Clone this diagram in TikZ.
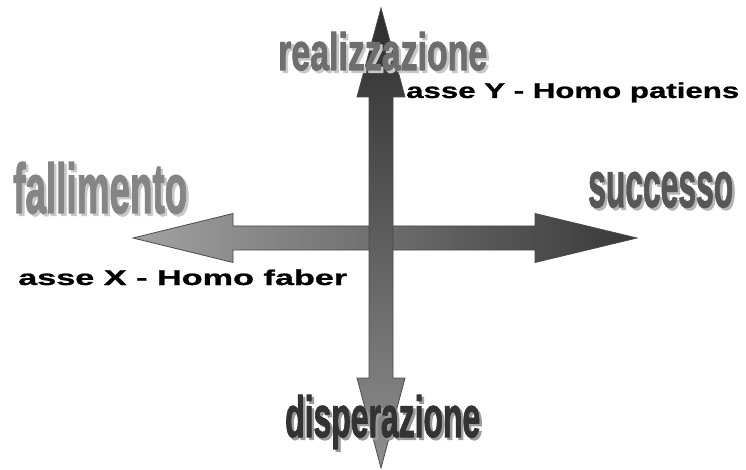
\documentclass[tikz,border=0pt]{standalone}
\usepackage{graphicx}
\usepackage{fontspec}
\setmainfont{Liberation Sans}
\newfontfamily\heavyfont[FakeBold=2]{Liberation Sans}
\newfontfamily\blackfont[FakeBold=0.8]{Liberation Sans}
\usepackage{tikz}
\usetikzlibrary{positioning}
\usepackage{xcolor}
\definecolor{axlight}{HTML}{A2A2A2}
\definecolor{axdark}{HTML}{383838}
\definecolor{axedge}{HTML}{4A4A4A}
\definecolor{realgray}{HTML}{6E6E6E}
\definecolor{failgray}{HTML}{858585}
\definecolor{succgray}{HTML}{575757}
\definecolor{despgray}{HTML}{333333}
\definecolor{shadowlight}{HTML}{C8C8C8}
\definecolor{shadowmid}{HTML}{B4B4B4}
\definecolor{shadowdark}{HTML}{9A9A9A}
\newcommand{\fitword}[3]{\resizebox{#1pt}{#2pt}{#3}}
% width, height, fill, shadow, text
\newcommand{\shadowword}[5]{%
  \rlap{\hspace{2.5pt}\raisebox{-2.5pt}{\textcolor{#4}{\fitword{#1}{#2}{#5}}}}%
  \textcolor{#3}{\fitword{#1}{#2}{#5}}}

\begin{document}
\begin{tikzpicture}[x=1pt,y=-1pt,
  word/.style={inner sep=0pt,anchor=base west,font=\heavyfont\bfseries},
  axislabel/.style={inner sep=0pt,anchor=base west,font=\blackfont\bfseries}]
  \useasboundingbox (0,0) rectangle (746,470);
  \fill[white] (0,0) rectangle (746,470);
  % horizontal axis, light on the left
  \path[draw=axedge, line width=0.8pt, left color=axlight, right color=axdark]
    (133,238) -- (233,213.5) -- (233,226) -- (535,226) -- (535,213.5)
    -- (637,238) -- (535,262.5) -- (535,250) -- (233,250) -- (233,262.5) -- cycle;
  % vertical axis, dark at the top
  \path[draw=axedge, line width=0.8pt, top color=axdark!80!black, bottom color=axlight!88!black]
    (381,8) -- (405,97) -- (393,97) -- (393,378) -- (405,378) -- (381,468)
    -- (357,378) -- (369,378) -- (369,97) -- (357,97) -- cycle;
  % pole words, each with its shadow
  \node[word] (real) at (278,70) {\shadowword{209}{38}{realgray}{shadowlight}{realizzazione}};
  \node[word] (fail) at (13,213) {\shadowword{174}{51}{failgray}{shadowlight}{fallimento}};
  \node[word] (succ) at (588,207) {\shadowword{145}{35}{succgray}{shadowmid}{successo}};
  \node[word] (desp) at (285,437) {\shadowword{195}{42}{despgray}{shadowdark}{disperazione}};
  % axis names
  \node[axislabel] (xname) at (18,285) {\fitword{329}{15.5}{asse X - Homo faber}};
  \node[axislabel] (yname) at (406,98) {\fitword{333}{15.5}{asse Y - Homo patiens}};
\end{tikzpicture}
\end{document}
